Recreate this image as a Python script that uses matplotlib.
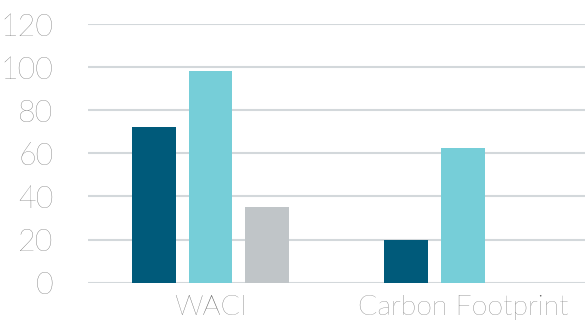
import matplotlib
matplotlib.use("Agg")
import matplotlib.pyplot as plt
import numpy as np

categories = ["WACI", "Carbon Footprint"]
series_a = [72, 20]      # dark teal
series_b = [98, 62.6]    # light cyan
series_c = [35, 0]       # gray
yticks = [0, 20, 40, 60, 80, 100, 120]

colors = ["#005a7a", "#76ced8", "#c0c5c8"]

plt.rcParams['font.family'] = ['Lato', 'DejaVu Sans']

fig = plt.figure(figsize=(5.85, 3.24), dpi=100)
ax = fig.add_axes([88/585, 1 - 282.7/324, 1 - 88/585, (282.7 - 24)/324])

x = np.arange(len(categories))
w = 0.174
off = 0.224
for i, (vals, c) in enumerate(zip([series_a, series_b, series_c], colors)):
    ax.bar(x + (i - 1) * off, vals, width=w, color=c, zorder=3)

ax.set_ylim(0, 120)
ax.set_xlim(-0.485, 1.483)
ax.set_yticks(yticks)
ax.set_xticks(x)
ax.set_xticklabels(categories)
ax.grid(axis='y', color='#d3d8db', linewidth=1.5, zorder=0)
ax.set_axisbelow(True)
for s in ax.spines.values():
    s.set_visible(False)
ax.tick_params(axis='both', length=0, colors='#5a5a5a')
ax.tick_params(axis='y', labelsize=22, pad=25)
ax.tick_params(axis='x', labelsize=20.5, pad=9)
for lbl in ax.get_yticklabels() + ax.get_xticklabels():
    lbl.set_fontweight('light')

fig.savefig("out.png", dpi=100)
